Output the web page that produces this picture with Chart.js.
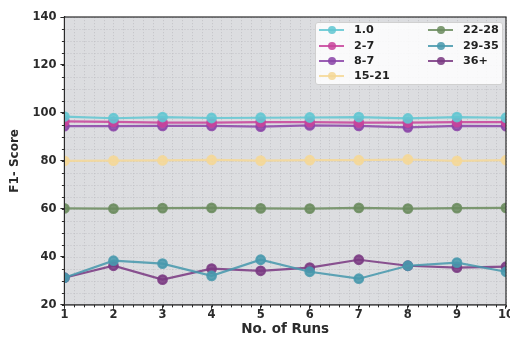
<!DOCTYPE html>
<html>
<head>
<meta charset="utf-8">
<script src="https://cdn.jsdelivr.net/npm/chart.js@4/dist/chart.umd.min.js"></script>
<style>
  html, body { margin: 0; padding: 0; background: #fff; overflow: hidden; width: 510px; height: 338px; }
  #wrap { position: relative; width: 514px; height: 338px; }
  #legend {
    position: absolute; left: 315px; top: 22px; width: 186px; height: 61px;
    background: rgba(255,255,255,0.85); border: 1px solid #d0d0d0; border-radius: 3px;
    font: bold 11.2px "DejaVu Sans", sans-serif; color: #222;
  }
  .item { position: absolute; height: 14px; line-height: 14px; }
  .sw  { position: absolute; top: 6px; left: 0; width: 25px; height: 2px; }
  .dot { position: absolute; top: 3px; left: 8.5px; width: 8px; height: 8px; border-radius: 50%; }
  .lab { position: absolute; left: 35px; top: 0; white-space: nowrap; }
</style>
</head>
<body>
<div id="wrap">
  <canvas id="c"></canvas>
  <div id="legend"></div>
</div>
<script>
// x axis: run number
const runs = [1, 2, 3, 4, 5, 6, 7, 8, 9, 10]

// series (F1 score per run)
const s1_0   = [98.5, 97.8, 98.3, 97.9, 98.0, 98.1, 98.3, 97.7, 98.3, 98.0]
const s2_7   = [96.5, 96.3, 96.0, 96.0, 96.2, 96.2, 96.0, 96.0, 96.2, 96.2]
const s8_7   = [94.5, 94.5, 94.6, 94.6, 94.3, 94.8, 94.6, 94.0, 94.6, 94.5]
const s15_21 = [80.0, 80.1, 80.2, 80.4, 80.1, 80.3, 80.3, 80.6, 80.0, 80.3]
const s22_28 = [60.2, 60.1, 60.3, 60.4, 60.2, 60.1, 60.4, 60.1, 60.3, 60.4]
const s29_35 = [31.3, 38.4, 37.2, 32.1, 38.8, 33.8, 30.9, 36.3, 37.6, 33.8]
const s36p   = [31.3, 36.3, 30.5, 35.1, 34.2, 35.5, 38.8, 36.3, 35.5, 35.9]

const seriesNames  = ['1.0', '2-7', '8-7', '15-21', '22-28', '29-35', '36+']
const seriesValues = [s1_0, s2_7, s8_7, s15_21, s22_28, s29_35, s36p]
const seriesColors = ['#62c6d2', '#c8449c', '#8a45a8', '#f5d897', '#6b8c5f', '#4898ad', '#7a3a82']

// axis ranges / ticks
const xMin = 1, xMax = 10, xStep = 1, xMinor = 0.2
const yMin = 20, yMax = 140, yStep = 20, yMinor = 5

const INK = '#2b2b2b'
Chart.defaults.font.family = "'DejaVu Sans', sans-serif"
Chart.defaults.font.weight = 'bold'
Chart.defaults.font.size = 11.5
Chart.defaults.color = INK

// background, dotted grid, frame and minor ticks (matplotlib look)
const axesDecor = {
  id: 'axesDecor',
  beforeDatasetsDraw(chart) {
    const { ctx, chartArea: a, scales: { x, y } } = chart
    ctx.save()
    ctx.fillStyle = '#dcdde0'
    ctx.fillRect(a.left, a.top, a.right - a.left, a.bottom - a.top)
    ctx.setLineDash([1.2, 1.8])
    ctx.lineWidth = 0.8
    ctx.strokeStyle = '#c2c2c5'
    for (let v = xMin; v <= xMax + 1e-9; v += xMinor) {
      const px = Math.round(x.getPixelForValue(v)) + 0.5
      ctx.beginPath(); ctx.moveTo(px, a.top); ctx.lineTo(px, a.bottom); ctx.stroke()
    }
    for (let v = yMin; v <= yMax + 1e-9; v += yMinor) {
      const py = Math.round(y.getPixelForValue(v)) + 0.5
      ctx.beginPath(); ctx.moveTo(a.left, py); ctx.lineTo(a.right, py); ctx.stroke()
    }
    ctx.restore()
  },
  afterDraw(chart) {
    const { ctx, chartArea: a, scales: { x, y } } = chart
    ctx.save()
    ctx.strokeStyle = INK
    ctx.lineWidth = 1
    for (let v = xMin; v <= xMax + 1e-9; v += xMinor) {
      const px = Math.round(x.getPixelForValue(v)) + 0.5
      ctx.beginPath(); ctx.moveTo(px, a.bottom); ctx.lineTo(px, a.bottom + 2.5); ctx.stroke()
    }
    for (let v = yMin; v <= yMax + 1e-9; v += yMinor) {
      const py = Math.round(y.getPixelForValue(v)) + 0.5
      ctx.beginPath(); ctx.moveTo(a.left, py); ctx.lineTo(a.left - 2.5, py); ctx.stroke()
    }
    ctx.lineWidth = 1.2
    ctx.strokeRect(a.left, a.top, a.right - a.left, a.bottom - a.top)
    ctx.restore()
  }
}

const datasets = seriesNames.map((name, i) => ({
  label: name,
  data: runs.map((r, j) => ({ x: r, y: seriesValues[i][j] })),
  borderColor: seriesColors[i] + 'dd',
  backgroundColor: seriesColors[i] + 'dd',
  borderWidth: 2.2,
  pointRadius: 4.3,
  pointHoverRadius: 4.3,
  tension: 0,
}))

new Chart(document.getElementById('c'), {
  type: 'line',
  data: { datasets },
  plugins: [axesDecor],
  options: {
    responsive: true,
    maintainAspectRatio: false,
    animation: false,
    layout: { padding: { top: 17, left: 8, right: 0, bottom: 1 } },
    plugins: { legend: { display: false }, tooltip: { enabled: false } },
    scales: {
      x: {
        type: 'linear', min: xMin, max: xMax,
        ticks: { stepSize: xStep, padding: 0, font: { lineHeight: 1.1 } },
        grid: { drawOnChartArea: false, tickLength: 4, tickColor: INK },
        border: { color: INK, width: 1.2 },
        title: { display: true, text: 'No. of Runs', font: { size: 13.5, weight: 'bold', lineHeight: 1 }, padding: { top: 1, bottom: 1 } },
      },
      y: {
        min: yMin, max: yMax,
        ticks: { stepSize: yStep, padding: 4 },
        grid: { drawOnChartArea: false, tickLength: 4, tickColor: INK },
        border: { color: INK, width: 1.2 },
        title: { display: true, text: 'F1- Score', font: { size: 12, weight: 'bold' }, padding: { top: 0, bottom: 6 } },
      },
    },
  },
})

// two-column legend, line + marker like matplotlib
const legendPos = [[3, 0], [3, 16], [3, 31], [3, 46], [112, 0], [112, 16], [112, 31]]
const legend = document.getElementById('legend')
seriesNames.forEach((name, i) => {
  const it = document.createElement('div')
  it.className = 'item'
  it.style.left = legendPos[i][0] + 'px'
  it.style.top = legendPos[i][1] + 'px'
  const c = seriesColors[i] + 'dd'
  it.innerHTML = `<span class="sw" style="background:${c}"></span><span class="dot" style="background:${c}"></span><span class="lab">${name}</span>`
  legend.appendChild(it)
})
</script>
</body>
</html>
